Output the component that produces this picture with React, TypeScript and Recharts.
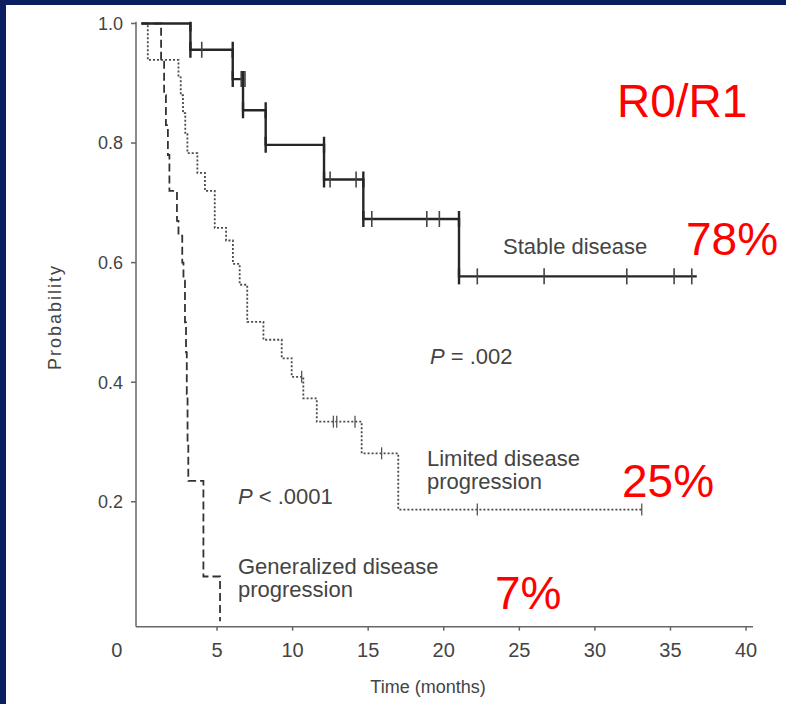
import { ComposedChart, Line, Scatter, XAxis, YAxis } from 'recharts';

// Kaplan-Meier curves (time in months, probability)
const stableT = [0, 3.24, 6.04, 6.72, 8.22, 12.08, 14.68, 21.01, 36.74];
const stableP = [1.0, 0.956, 0.907, 0.855, 0.797, 0.739, 0.673, 0.577, 0.577];
const stableCensorT = [3.99, 6.6, 6.85, 12.48, 14.2, 15.24, 18.88, 19.71, 22.22, 26.64, 32.11, 35.24, 36.41];
const stableCensorP = [0.956, 0.907, 0.907, 0.739, 0.739, 0.673, 0.673, 0.673, 0.577, 0.577, 0.577, 0.577, 0.577];

const limitedT = [0, 0.42, 2.45, 2.6, 2.75, 2.9, 3.04, 3.7, 4.2, 4.85, 5.6, 6.05, 6.5, 7.0, 8.07, 9.28, 9.94, 10.71, 11.6, 14.57, 16.99, 33.1];
const limitedP = [1.0, 0.939, 0.91, 0.88, 0.85, 0.815, 0.783, 0.75, 0.72, 0.658, 0.637, 0.598, 0.563, 0.501, 0.471, 0.44, 0.409, 0.373, 0.334, 0.281, 0.187, 0.187];
const limitedCensorT = [10.6, 12.7, 12.92, 14.13, 15.89, 22.22, 33.1];
const limitedCensorP = [0.409, 0.334, 0.334, 0.334, 0.281, 0.187, 0.187];

const generalT = [0, 1.3, 1.5, 1.62, 1.75, 1.85, 2.35, 2.45, 2.7, 2.78, 2.88, 2.95, 3.0, 3.05, 3.1, 4.1, 5.2];
const generalP = [1.0, 0.94, 0.88, 0.83, 0.78, 0.72, 0.67, 0.645, 0.6, 0.57, 0.5, 0.45, 0.38, 0.3, 0.235, 0.075, 0];

const xTicks = [5, 10, 15, 20, 25, 30, 35, 40];
const yTicks = [0.2, 0.4, 0.6, 0.8, 1.0];

const FONT = '"Liberation Sans", Arial, sans-serif';
const TEXT = '#444';

const toRows = (ts: number[], ps: number[]) => ts.map((t, i) => ({ t, p: ps[i] }));

const stableData = toRows(stableT, stableP);
const limitedData = toRows(limitedT, limitedP);
const generalData = toRows(generalT, generalP);
const stableCensors = toRows(stableCensorT, stableCensorP);
const limitedCensors = toRows(limitedCensorT, limitedCensorP);
// stable curve draws a tick at both ends of every drop
const stableEvents = stableT.slice(1, -1).flatMap((t, i) => [
  { t, p: stableP[i] },
  { t, p: stableP[i + 1] },
]);

const tick = (half: number, color: string, w: number) => (props: any) => {
  const { cx, cy } = props;
  return <line x1={cx} x2={cx} y1={cy - half} y2={cy + half} stroke={color} strokeWidth={w} />;
};

export default function App() {
  return (
    <div style={{ position: 'absolute', left: 0, top: 0, width: 786, height: 704, background: '#fff', overflow: 'hidden' }}>
      <ComposedChart width={786} height={704} margin={{ top: 21.7, right: 33, bottom: 47.3, left: 76 }}>
        <XAxis
          type='number'
          dataKey='t'
          domain={[-0.36, 40.46]}
          ticks={xTicks}
          allowDataOverflow
          height={30}
          stroke='#666'
          strokeWidth={1.5}
          tickSize={4}
          tickMargin={12}
          tick={{ fontSize: 20, fill: TEXT, fontFamily: FONT }}
        />
        <YAxis
          type='number'
          dataKey='p'
          domain={[-0.009, 1.003]}
          ticks={yTicks}
          allowDataOverflow
          width={60}
          stroke='#666'
          strokeWidth={1.5}
          tickSize={5}
          tickMargin={8}
          tickFormatter={(v) => v.toFixed(1)}
          tick={{ fontSize: 18, fill: TEXT, fontFamily: FONT }}
        />
        <Line data={generalData} dataKey='p' type='stepAfter' stroke='#333' strokeWidth={1.8} strokeDasharray='8 4' dot={false} isAnimationActive={false} />
        <Line data={limitedData} dataKey='p' type='stepAfter' stroke='#4a4a4a' strokeWidth={1.8} strokeDasharray='2 2' dot={false} isAnimationActive={false} />
        <Line data={stableData} dataKey='p' type='stepAfter' stroke='#262626' strokeWidth={2.4} dot={false} isAnimationActive={false} />
        <Scatter data={stableCensors} dataKey='p' shape={tick(8, '#444', 1.6)} isAnimationActive={false} />
        <Scatter data={stableEvents} dataKey='p' shape={tick(8, '#262626', 2.4)} isAnimationActive={false} />
        <Scatter data={limitedCensors} dataKey='p' shape={tick(6, '#555', 1.3)} isAnimationActive={false} />
      </ComposedChart>

      <svg width={786} height={704} style={{ position: 'absolute', left: 0, top: 0, pointerEvents: 'none' }}>
        <g fontFamily={FONT} fill={TEXT}>
          <text x={116.7} y={656.7} fontSize={20} textAnchor='middle'>0</text>
          <text x={428} y={693} fontSize={18} textAnchor='middle'>Time (months)</text>
          <text x={55} y={317} fontSize={18} textAnchor='middle' letterSpacing={2} dy='0.35em' transform='rotate(-90 55 317)'>
            Probability
          </text>
          <text x={503} y={254} fontSize={22}>Stable disease</text>
          <text x={430} y={364} fontSize={22}>
            <tspan fontStyle='italic'>P</tspan> = .002
          </text>
          <text x={427} y={466} fontSize={22}>Limited disease</text>
          <text x={427} y={489} fontSize={22}>progression</text>
          <text x={238} y={504} fontSize={22}>
            <tspan fontStyle='italic'>P</tspan> &lt; .0001
          </text>
          <text x={238} y={574} fontSize={22}>Generalized disease</text>
          <text x={238} y={597} fontSize={22}>progression</text>
        </g>
        <g fontFamily={FONT} fill='#ff0000' fontSize={46}>
          <text x={617} y={117}>R0/R1</text>
          <text x={686} y={255}>78%</text>
          <text x={622} y={497}>25%</text>
          <text x={495} y={609}>7%</text>
        </g>
      </svg>

      <div style={{ position: 'absolute', left: 0, top: 0, width: 786, height: 5, background: '#0b1f60' }} />
      <div style={{ position: 'absolute', left: 0, top: 0, width: 6, height: 704, background: '#0b1f60' }} />
    </div>
  );
}
